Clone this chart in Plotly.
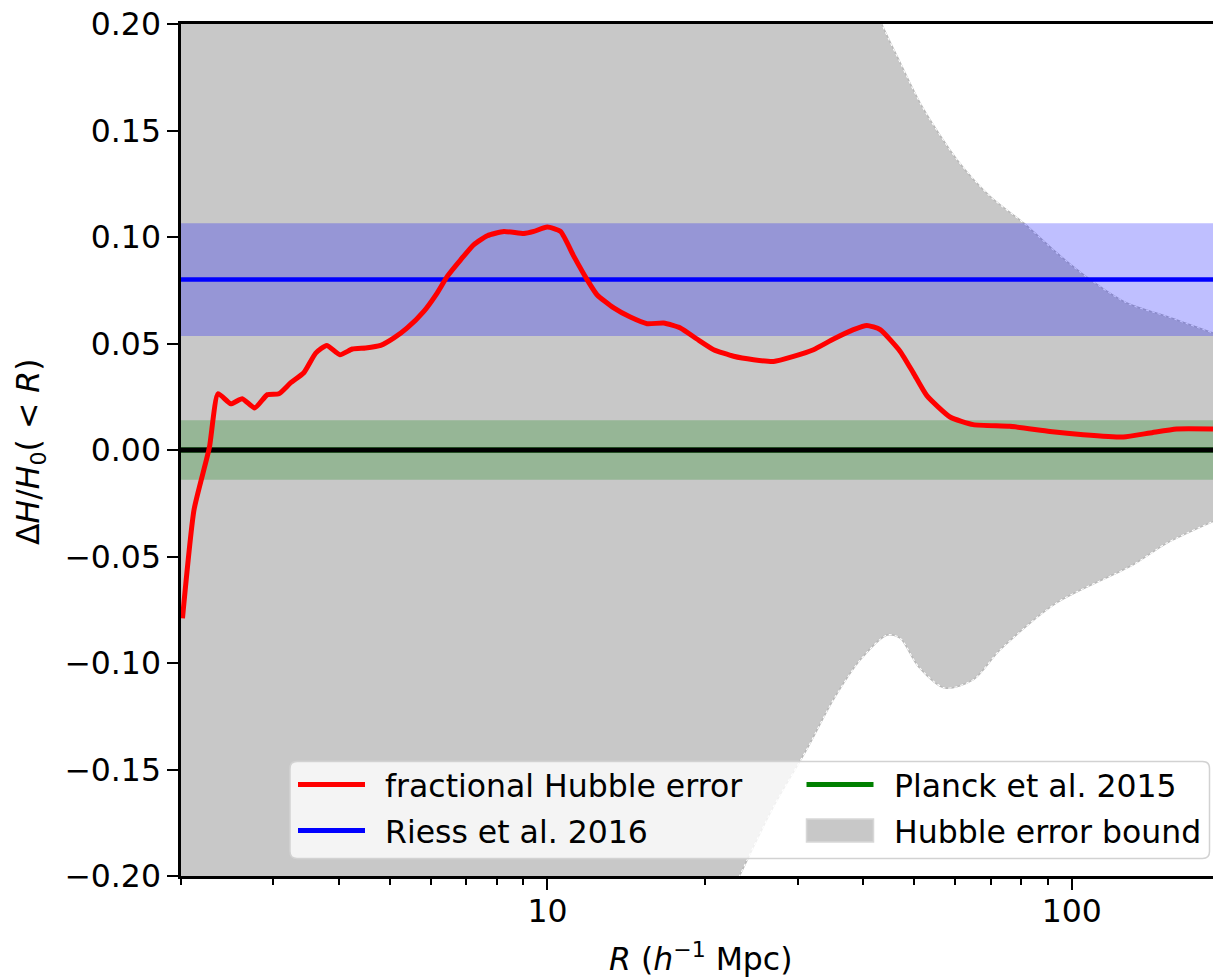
import math
import plotly.graph_objects as go

# Fractional Hubble error inside radius R (h^-1 Mpc)
radius = [2.013, 2.118, 2.265, 2.353, 2.489, 2.617, 2.764, 2.923, 3.075, 3.236,
          3.433, 3.614, 3.793, 4.020, 4.246, 4.500, 4.808, 5.096, 5.402, 5.810,
          6.160, 6.440, 6.830, 7.240, 7.680, 8.260, 9.020, 9.420, 9.990, 10.59,
          11.23, 11.90, 12.43, 13.38, 14.39, 15.49, 16.66, 17.93, 19.28, 20.75,
          22.65, 24.73, 27.00, 29.47, 32.17, 35.13, 38.35, 40.66, 43.12, 47.08,
          49.90, 52.93, 58.60, 64.90, 76.20, 90.90, 105.2, 125.4, 141.0, 158.5,
          186.0]
frac_err = [-0.0790, -0.0280, 0.0010, 0.0264, 0.0217, 0.0241, 0.0197, 0.0260, 0.0264, 0.0315,
            0.0364, 0.0455, 0.0491, 0.0447, 0.0474, 0.0479, 0.0491, 0.0526, 0.0573, 0.0651,
            0.0737, 0.0815, 0.0893, 0.0964, 0.1006, 0.1026, 0.1016, 0.1026, 0.1047, 0.1026,
            0.0909, 0.0800, 0.0729, 0.0667, 0.0624, 0.0593, 0.0596, 0.0573, 0.0521, 0.0471,
            0.0440, 0.0424, 0.0416, 0.0440, 0.0471, 0.0521, 0.0565, 0.0585, 0.0565, 0.0463,
            0.0361, 0.0255, 0.0155, 0.0119, 0.0111, 0.0087, 0.0072, 0.0061, 0.0080, 0.0099,
            0.0099]

# Envelope of the Hubble error bound
bound_r_upper = [2.0, 20.0, 30.0, 36.0, 43.4, 47.1, 51.8, 60.4, 69.9, 80.9,
                 93.6, 108.4, 127.3, 151.8, 186.0]
bound_upper = [1.50, 0.45, 0.30, 0.25, 0.200, 0.1817, 0.1613, 0.1363, 0.1190, 0.1066,
               0.0925, 0.0800, 0.0690, 0.0627, 0.0549]
bound_r_lower = [2.0, 20.0, 23.3, 27.0, 31.2, 35.1, 39.5, 44.5, 47.1, 51.0,
                 57.3, 64.9, 73.0, 93.5, 130.9, 151.8, 186.0]
bound_lower = [-1.50, -0.235, -0.1994, -0.1673, -0.1407, -0.1172, -0.0985, -0.0868, -0.0883, -0.1016,
               -0.1117, -0.1078, -0.0938, -0.0718, -0.0539, -0.0437, -0.0335]

# External H0 measurements, as fractional offsets from Planck
RIESS_2016 = 0.080
RIESS_2016_ERR = 0.0265
PLANCK_2015 = 0.0
PLANCK_2015_ERR = 0.0140

X_LIMITS = [2.0, 186.0]
Y_LIMITS = [-0.20, 0.20]
Y_TICKS = [-0.20, -0.15, -0.10, -0.05, 0.00, 0.05, 0.10, 0.15, 0.20]
X_TICKS = [10, 100]
X_TICK_LABELS = ["10", "100"]
X_MINOR_TICKS = [2, 3, 4, 5, 6, 7, 8, 9, 20, 30, 40, 50, 60, 70, 80, 90]

LEGEND_LABELS = ["fractional Hubble error", "Riess et al. 2016",
                 "Planck et al. 2015", "Hubble error bound"]

FONT = "DejaVu Sans"
FS = 31.5
GREY = "rgb(200,200,200)"

# Canvas and plotting area (pixels)
W, H = 1213, 978
ML, MR, MT, MB = 181, 0, 24, 102
PW, PH = W - ML - MR, H - MT - MB


def px(x):
    return (x - ML) / PW


def py(y):
    return (H - MB - y) / PH


fig = go.Figure()

# Hubble error bound: lower edge, then upper edge filled down to it
fig.add_trace(go.Scatter(x=bound_r_lower, y=bound_lower, mode="lines",
                         line=dict(color="rgb(185,185,185)", width=1.6, shape="spline", smoothing=0.8),
                         showlegend=False, hoverinfo="skip"))
fig.add_trace(go.Scatter(x=bound_r_upper, y=bound_upper, mode="lines", fill="tonexty",
                         fillcolor=GREY,
                         line=dict(color="rgb(185,185,185)", width=1.6, shape="spline", smoothing=0.8),
                         showlegend=False, hoverinfo="skip"))
for bx, by in ((bound_r_lower, bound_lower), (bound_r_upper, bound_upper)):
    fig.add_trace(go.Scatter(x=bx, y=by, mode="lines",
                             line=dict(color="white", width=1.1, dash="dot", shape="spline", smoothing=0.8),
                             showlegend=False, hoverinfo="skip"))

# Measurement bands
for centre, err, rgb in ((RIESS_2016, RIESS_2016_ERR, "0,0,255"),
                         (PLANCK_2015, PLANCK_2015_ERR, "0,128,0")):
    fig.add_trace(go.Scatter(x=X_LIMITS, y=[centre - err] * 2, mode="lines",
                             line=dict(width=0), showlegend=False, hoverinfo="skip"))
    fig.add_trace(go.Scatter(x=X_LIMITS, y=[centre + err] * 2, mode="lines", fill="tonexty",
                             fillcolor=f"rgba({rgb},0.25)", line=dict(width=0),
                             showlegend=False, hoverinfo="skip"))

# Central values
fig.add_trace(go.Scatter(x=X_LIMITS, y=[PLANCK_2015] * 2, mode="lines",
                         line=dict(color="green", width=5), showlegend=False))
fig.add_trace(go.Scatter(x=X_LIMITS, y=[0.0, 0.0], mode="lines",
                         line=dict(color="black", width=5), showlegend=False))
fig.add_trace(go.Scatter(x=X_LIMITS, y=[RIESS_2016] * 2, mode="lines",
                         line=dict(color="blue", width=4.5), showlegend=False))

# Fractional Hubble error curve
fig.add_trace(go.Scatter(x=radius, y=frac_err, mode="lines",
                         line=dict(color="red", width=5, shape="spline", smoothing=0.5),
                         showlegend=False))

# Legend frame
lx0, lx1, ly0, ly1 = px(290), px(1209.5), py(858.5), py(761.5)
rx, ry = 7 / PW, 7 / PH
frame = (f"M {lx0 + rx},{ly0} L {lx1 - rx},{ly0} Q {lx1},{ly0} {lx1},{ly0 + ry} "
         f"L {lx1},{ly1 - ry} Q {lx1},{ly1} {lx1 - rx},{ly1} L {lx0 + rx},{ly1} "
         f"Q {lx0},{ly1} {lx0},{ly1 - ry} L {lx0},{ly0 + ry} Q {lx0},{ly0} {lx0 + rx},{ly0} Z")
shapes = [dict(type="path", path=frame, xref="paper", yref="paper", layer="above",
               fillcolor="rgba(255,255,255,0.8)", line=dict(color="rgb(210,210,210)", width=1.5))]

row_y = [784.5, 830.5]
col_x = [298, 806.5]
handle_len = 67
handles = [("line", "red"), ("line", "blue"), ("line", "green"), ("patch", GREY)]
positions = [(0, 0), (0, 1), (1, 0), (1, 1)]
annotations = []
for (kind, colour), (c, r), label in zip(handles, positions, LEGEND_LABELS):
    x0, x1 = px(col_x[c]), px(col_x[c] + handle_len)
    yc = row_y[r]
    if kind == "line":
        shapes.append(dict(type="line", xref="paper", yref="paper", layer="above",
                           x0=x0, x1=x1, y0=py(yc), y1=py(yc),
                           line=dict(color=colour, width=5)))
    else:
        shapes.append(dict(type="rect", xref="paper", yref="paper", layer="above",
                           x0=x0, x1=x1, y0=py(yc + 11.5), y1=py(yc - 11.5),
                           fillcolor=colour, line=dict(color="rgb(215,215,215)", width=1.5)))
    annotations.append(dict(text=label, xref="paper", yref="paper",
                            x=px(col_x[c] + handle_len + 18), y=py(yc + 1),
                            xanchor="left", yanchor="middle", showarrow=False,
                            font=dict(family=FONT, size=FS, color="black")))

# Axis titles
annotations.append(dict(text="<i>R</i> (<i>h</i><sup>\u22121</sup> Mpc)",
                        xref="paper", yref="paper", x=px(700), y=py(957),
                        xanchor="center", yanchor="middle", showarrow=False,
                        font=dict(family=FONT, size=FS, color="black")))
annotations.append(dict(text="\u0394<i>H</i>/<i>H</i><sub>0</sub>( &lt; <i>R</i>)",
                        xref="paper", yref="paper", x=px(31), y=py(452),
                        xanchor="center", yanchor="middle", textangle=-90, showarrow=False,
                        font=dict(family=FONT, size=FS, color="black")))

fig.update_layout(
    width=W, height=H,
    margin=dict(l=ML, r=MR, t=MT, b=MB, pad=0),
    paper_bgcolor="white", plot_bgcolor="white",
    font=dict(family=FONT, size=FS, color="black"),
    showlegend=False,
    shapes=shapes, annotations=annotations,
)
fig.update_xaxes(
    type="log", range=[math.log10(X_LIMITS[0]), math.log10(X_LIMITS[1])],
    tickmode="array", tickvals=X_TICKS, ticktext=X_TICK_LABELS,
    ticks="outside", ticklen=11, tickwidth=2.2, tickcolor="black",
    ticklabelstandoff=-6,
    minor=dict(tickmode="array", tickvals=X_MINOR_TICKS, ticks="outside",
               ticklen=6, tickwidth=1.8, tickcolor="black", showgrid=False),
    showline=True, linewidth=2.5, linecolor="black", mirror=True,
    showgrid=False, zeroline=False,
    tickfont=dict(family=FONT, size=FS, color="black"),
)
fig.update_yaxes(
    range=Y_LIMITS, tickmode="array", tickvals=Y_TICKS,
    tickformat=".2f",
    ticks="outside", ticklen=11, tickwidth=2.2, tickcolor="black",
    showline=True, linewidth=2.5, linecolor="black", mirror=False,
    showgrid=False, zeroline=False,
    tickfont=dict(family=FONT, size=FS, color="black"),
)

fig.write_html("out.html")
